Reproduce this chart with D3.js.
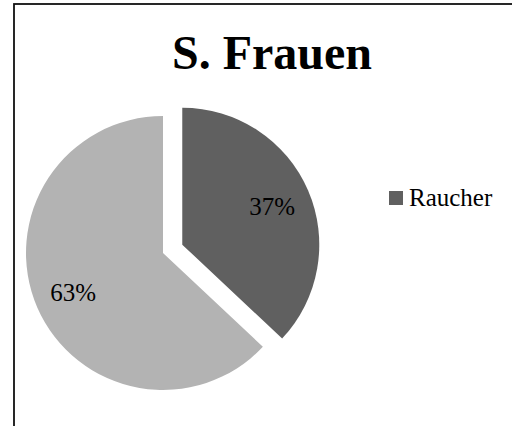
<!DOCTYPE html>
<html>
<head>
  <meta charset="utf-8">
  <script src="https://d3js.org/d3.v7.min.js"></script>
  <style>
    body { margin: 0; background: #fff; }
    text { font-family: "Liberation Serif", "Times New Roman", serif; }
  </style>
</head>
<body>
<div id="chartArea"></div>
<script>
  var w = 512, h = 426;

  var title = "S. Frauen";
  var categories = ["Raucher", "Nichtraucher"];
  var values = [37, 63];
  var colors = ["#606060", "#b3b3b3"];
  var exploded = [true, false];
  var legendItems = ["Raucher"];

  var cx = 163, cy = 253, r = 137, explode = 21, labelR = 98;

  var svg = d3.select("#chartArea")
              .append("svg")
              .attr("width", w)
              .attr("height", h);

  // chart frame (runs off the right/bottom of the picture)
  svg.append("rect")
     .attr("x", 14).attr("y", 4)
     .attr("width", 520).attr("height", 440)
     .attr("fill", "#fff")
     .attr("stroke", "#111")
     .attr("stroke-width", 1.8);

  svg.append("text")
     .attr("x", 272).attr("y", 69)
     .attr("text-anchor", "middle")
     .style("font-size", "48px")
     .style("font-weight", "bold")
     .text(title);

  var total = d3.sum(values);
  var pie = d3.pie().sort(null).value(function(d) { return d; });
  var arcs = pie(values);
  var arc = d3.arc().innerRadius(0).outerRadius(r);

  var g = svg.append("g").attr("transform", "translate(" + cx + "," + cy + ")");

  function shift(d, i) {
    var mid = (d.startAngle + d.endAngle) / 2;
    var k = exploded[i] ? explode : 0;
    return [Math.sin(mid) * k, -Math.cos(mid) * k];
  }

  g.selectAll("path")
   .data(arcs)
   .enter()
   .append("path")
   .attr("d", arc)
   .attr("fill", function(d, i) { return colors[i]; })
   .attr("transform", function(d, i) { var s = shift(d, i); return "translate(" + s[0] + "," + s[1] + ")"; });

  g.selectAll("text.lbl")
   .data(arcs)
   .enter()
   .append("text")
   .attr("class", "lbl")
   .attr("x", function(d, i) { var mid = (d.startAngle + d.endAngle) / 2; return shift(d, i)[0] + Math.sin(mid) * labelR; })
   .attr("y", function(d, i) { var mid = (d.startAngle + d.endAngle) / 2; return shift(d, i)[1] - Math.cos(mid) * labelR; })
   .attr("dy", "0.38em")
   .attr("text-anchor", "middle")
   .style("font-size", "25px")
   .attr("fill", "#000")
   .text(function(d) { return Math.round(d.data / total * 100) + "%"; });

  var legend = svg.selectAll("g.legend")
     .data(legendItems)
     .enter()
     .append("g")
     .attr("class", "legend")
     .attr("transform", function(d, i) { return "translate(389," + (191 + i * 30) + ")"; });

  legend.append("rect")
     .attr("width", 14).attr("height", 14)
     .attr("fill", function(d) { return colors[categories.indexOf(d)]; });

  legend.append("text")
     .attr("x", 20).attr("y", 15)
     .style("font-size", "25px")
     .text(function(d) { return d; });
</script>
</body>
</html>
